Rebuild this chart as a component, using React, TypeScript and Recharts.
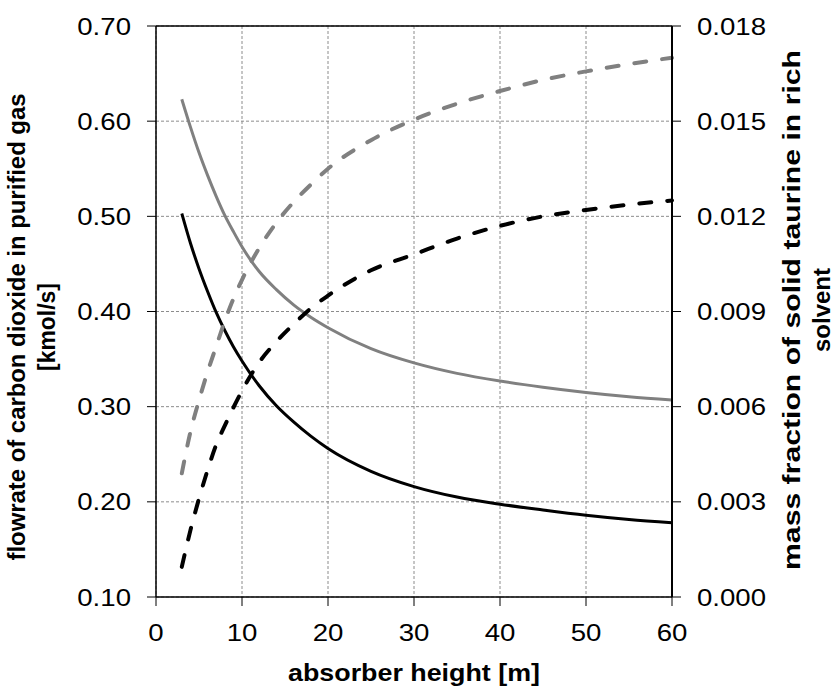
import { CartesianGrid, Line, LineChart, ReferenceLine, XAxis, YAxis } from 'recharts';

// absorber height [m]
const heights = [3, 4, 5, 6, 7, 8, 9, 10, 12, 14, 16, 18, 20, 25, 30, 35, 40, 45, 50, 55, 60];

// CO2 flowrate in purified gas [kmol/s] (left axis)
const co2Black = [0.503, 0.472, 0.445, 0.421, 0.399, 0.38, 0.363, 0.348, 0.322, 0.301, 0.284, 0.269, 0.256, 0.232, 0.216, 0.205, 0.1975, 0.1915, 0.186, 0.1815, 0.178];
const co2Gray = [0.623, 0.594, 0.567, 0.543, 0.521, 0.501, 0.484, 0.468, 0.442, 0.423, 0.407, 0.394, 0.383, 0.361, 0.346, 0.335, 0.327, 0.3205, 0.315, 0.3105, 0.307];

// mass fraction of solid taurine in rich solvent (right axis)
const taurineBlack = [0.00095, 0.0021, 0.0031, 0.004, 0.0048, 0.0054, 0.00597, 0.0065, 0.0074, 0.00805, 0.0086, 0.0091, 0.0095, 0.0103, 0.0108, 0.0113, 0.0117, 0.012, 0.0122, 0.01237, 0.0125];
const taurineGray = [0.0039, 0.0052, 0.0062, 0.0071, 0.0079, 0.0087, 0.0094, 0.01, 0.011, 0.0118, 0.01245, 0.013, 0.0135, 0.0144, 0.01505, 0.01555, 0.01595, 0.0163, 0.01657, 0.0168, 0.017];

const xTicks = [0, 10, 20, 30, 40, 50, 60];
const leftTicks = [0.1, 0.2, 0.3, 0.4, 0.5, 0.6, 0.7];
const rightTicks = [0, 0.003, 0.006, 0.009, 0.012, 0.015, 0.018];

const rows = heights.map((h, i) => ({
  h,
  co2Black: co2Black[i],
  co2Gray: co2Gray[i],
  taurineBlack: taurineBlack[i],
  taurineGray: taurineGray[i],
}));

const font = '"Liberation Sans", Arial, sans-serif';

function StretchTick(props: any) {
  const { x, y, payload, textAnchor, digits, bottom } = props;
  const v = digits == null ? payload.value : Number(payload.value).toFixed(digits);
  return (
    <g transform={`translate(${x},${y})`}>
      <text
        transform="scale(1.15,1)"
        textAnchor={textAnchor}
        dy={bottom ? '0.71em' : '0.355em'}
        fill="#000"
        fontSize={24}
        fontFamily={font}
      >
        {v}
      </text>
    </g>
  );
}

function VTitle({ x, y, lines, len }: { x: number; y: number; lines: string[]; len: number[] }) {
  return (
    <g>
      {lines.map((t, i) => (
        <text
          key={t}
          x={0}
          y={0}
          transform={`translate(${x + i * 30},${y}) rotate(-90)`}
          textAnchor="middle"
          fontSize={24}
          fontWeight="bold"
          fontFamily={font}
          fill="#000"
          textLength={len[i]}
          lengthAdjust="spacingAndGlyphs"
        >
          {t}
        </text>
      ))}
    </g>
  );
}

export default function App() {
  return (
    <div style={{ position: 'absolute', left: 0, top: 0 }}>
      <LineChart width={836} height={693} data={rows} margin={{ top: 26, right: 84, bottom: 56, left: 80 }}>
        <CartesianGrid yAxisId="left" stroke="#8c8c8c" strokeDasharray="3 2" />
        <XAxis
          dataKey="h"
          type="number"
          domain={[0, 60]}
          ticks={xTicks}
          height={40}
          axisLine={{ stroke: '#000', strokeWidth: 1.5 }}
          tickLine={{ stroke: '#000' }}
          tickSize={9}
          tickMargin={18}
          tick={(p: any) => <StretchTick {...p} bottom />}
          label={(p: any) => (
            <text
              x={p.viewBox.x + p.viewBox.width / 2}
              y={681}
              textAnchor="middle"
              fontSize={24}
              fontWeight="bold"
              fontFamily={font}
              fill="#000"
              textLength={252}
              lengthAdjust="spacingAndGlyphs"
            >
              absorber height [m]
            </text>
          )}
        />
        <YAxis
          yAxisId="left"
          domain={[0.1, 0.7]}
          ticks={leftTicks}
          width={76}
          axisLine={{ stroke: '#000', strokeWidth: 1.5 }}
          tickLine={{ stroke: '#000' }}
          tickSize={9}
          tickMargin={16}
          tick={(p: any) => <StretchTick {...p} digits={2} />}
          label={() => (
            <VTitle
              x={25}
              y={327}
              lines={['flowrate of carbon dioxide in purified gas', '[kmol/s]']}
              len={[467, 88]}
            />
          )}
        />
        <YAxis
          yAxisId="right"
          orientation="right"
          domain={[0, 0.018]}
          ticks={rightTicks}
          width={80}
          axisLine={{ stroke: '#000', strokeWidth: 2 }}
          tickLine={{ stroke: '#000' }}
          tickSize={9}
          tickMargin={16}
          tick={(p: any) => <StretchTick {...p} digits={3} />}
          label={() => (
            <VTitle
              x={800}
              y={310}
              lines={['mass fraction of solid taurine in rich', 'solvent']}
              len={[520, 84]}
            />
          )}
        />
        <ReferenceLine yAxisId="left" y={0.7} stroke="#000" strokeWidth={1.5} />
        <Line yAxisId="left" dataKey="co2Gray" type="monotone" stroke="#808080" strokeWidth={3} dot={false} isAnimationActive={false} />
        <Line yAxisId="left" dataKey="co2Black" type="monotone" stroke="#000" strokeWidth={3} dot={false} isAnimationActive={false} />
        <Line yAxisId="right" dataKey="taurineGray" type="monotone" stroke="#808080" strokeWidth={4} strokeDasharray="12 16" strokeLinecap="round" dot={false} isAnimationActive={false} />
        <Line yAxisId="right" dataKey="taurineBlack" type="monotone" stroke="#000" strokeWidth={4} strokeDasharray="12 16" strokeLinecap="round" dot={false} isAnimationActive={false} />
      </LineChart>
    </div>
  );
}
